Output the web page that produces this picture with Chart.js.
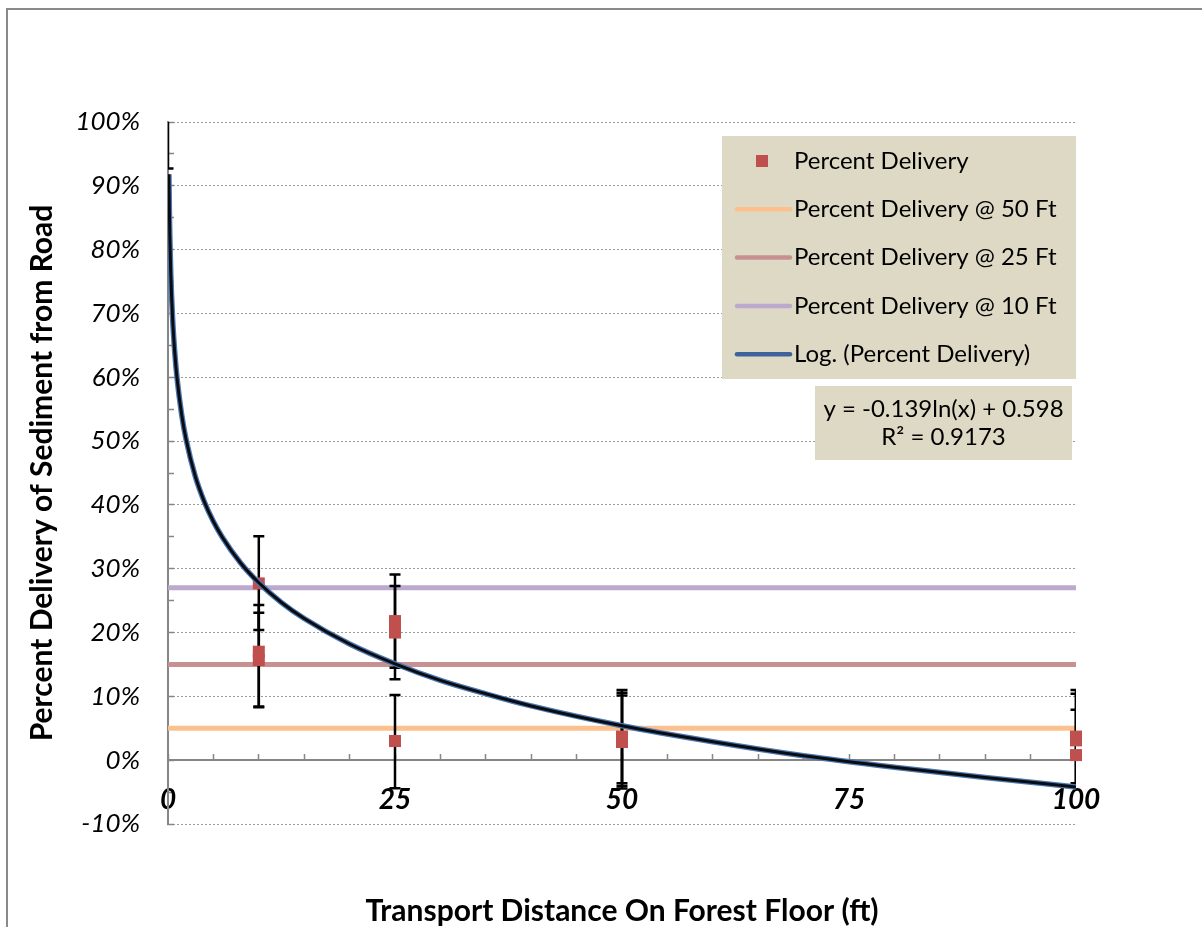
<!DOCTYPE html>
<html>
<head>
<meta charset="utf-8">
<script src="https://cdn.jsdelivr.net/npm/chart.js@4.4.1/dist/chart.umd.min.js"></script>
<style>
    html, body { margin: 0; padding: 0; background: #fff; }
    #wrap { position: relative; width: 1202px; height: 927px; }
</style>
</head>
<body>
<div id="wrap"><canvas id="sedimentChart" width="1202" height="927"></canvas></div>
<script>
// measured delivery (percent) per transport distance (ft), three plots per distance
const distances = [0, 10, 10, 10, 25, 25, 25, 50, 50, 50, 100, 100, 100];
const delivery = [100, 27.7, 17.0, 15.7, 21.8, 20.0, 3.0, 3.7, 3.25, 2.85, 3.7, 3.1, 0.8];
const errPlus = [7.3, 7.4, 7.3, 7.4, 7.3, 7.3, 7.2, 7.3, 7.3, 7.3, 7.3, 7.3, 7.1];
const errMinus = [7.3, 7.3, 8.7, 7.3, 7.3, 7.3, 7.4, 7.3, 7.3, 7.3, 7.3, 7.3, 4.7];

// reference delivery levels
const lineRange = [0, 100];
const at50ft = 5;
const at25ft = 15;
const at10ft = 27;

// log trendline
const trendX = [0.1, 0.15, 0.2, 0.3, 0.5, 0.75, 1, 1.5, 2, 3, 4, 5, 6, 8, 10, 12.5, 15, 20, 25, 30, 35, 40, 50, 60, 70, 80, 90, 100];
const trendY = [91.8, 86.2, 82.2, 76.5, 69.4, 63.8, 59.8, 54.2, 50.2, 44.5, 40.5, 37.4, 34.9, 30.9, 27.8, 24.7, 22.2, 18.2, 15.1, 12.5, 10.4, 8.5, 5.4, 2.9, 0.7, -1.1, -2.7, -4.2];
const trendEquation = ['y = -0.139ln(x) + 0.598', 'R\u00b2 = 0.9173'];

const xTickLabels = [0, 25, 50, 75, 100];
const yTickLabels = [-10, 0, 10, 20, 30, 40, 50, 60, 70, 80, 90, 100];

Chart.defaults.font.family = 'Lato';
Chart.defaults.color = '#000';

const toPoints = (xs, ys) => xs.map((x, i) => ({ x: x, y: ys[i] }));
const flatLine = (v) => lineRange.map(x => ({ x: x, y: v }));

const frame = {
    id: 'frame',
    beforeDraw(chart) {
        const ctx = chart.ctx;
        ctx.save();
        ctx.fillStyle = '#fff';
        ctx.fillRect(0, 0, chart.width, chart.height);
        ctx.strokeStyle = '#8a8a8a';
        ctx.lineWidth = 2;
        ctx.beginPath();
        ctx.moveTo(7, chart.height);
        ctx.lineTo(7, 9);
        ctx.lineTo(chart.width, 9);
        ctx.stroke();
        ctx.restore();
    }
};

// vertical error bars, drawn just under the markers
const errorBars = {
    id: 'errorBars',
    beforeDatasetDraw(chart, args) {
        if (args.index !== 0) return;
        const { ctx, chartArea, scales } = chart;
        ctx.save();
        ctx.beginPath();
        ctx.rect(chartArea.left, chartArea.top, chartArea.right - chartArea.left, chartArea.bottom - chartArea.top);
        ctx.clip();
        ctx.strokeStyle = '#000';
        ctx.lineWidth = 2.5;
        distances.forEach((d, i) => {
            const px = scales.x.getPixelForValue(d);
            const top = scales.y.getPixelForValue(delivery[i] + errPlus[i]);
            const bot = scales.y.getPixelForValue(delivery[i] - errMinus[i]);
            ctx.beginPath();
            ctx.moveTo(px, top);
            ctx.lineTo(px, bot);
            ctx.moveTo(px - 5.5, top);
            ctx.lineTo(px + 5.5, top);
            ctx.moveTo(px - 5.5, bot);
            ctx.lineTo(px + 5.5, bot);
            ctx.stroke();
        });
        ctx.restore();
    }
};

const boxLegend = {
    id: 'boxLegend',
    afterDraw(chart) {
        const { ctx, chartArea } = chart;
        const right = chartArea.right;
        const top = chartArea.top + 14;
        const w = 354, h = 243;
        const left = right - w;
        ctx.save();
        ctx.fillStyle = '#ddd9c4';
        ctx.fillRect(left, top, w, h);
        ctx.font = '24px Lato';
        ctx.textBaseline = 'middle';
        ctx.textAlign = 'left';
        const items = chart.data.datasets.filter(ds => ds.inLegend !== false);
        items.forEach((ds, i) => {
            const cy = top + 25 + i * 48.3;
            if (ds.showLine === false) {
                ctx.fillStyle = ds.backgroundColor;
                ctx.fillRect(left + 34, cy - 6, 12, 12);
            } else {
                ctx.strokeStyle = ds.legendColor || ds.borderColor;
                ctx.lineWidth = 4.5;
                ctx.lineCap = 'round';
                ctx.beginPath();
                ctx.moveTo(left + 15, cy);
                ctx.lineTo(left + 68, cy);
                ctx.stroke();
            }
            ctx.fillStyle = '#000';
            ctx.fillText(ds.label, left + 72, cy);
        });

        // trendline equation box
        const eW = 257, eH = 74;
        const eLeft = right - 4 - eW;
        const eTop = top + 250;
        ctx.fillStyle = '#ddd9c4';
        ctx.fillRect(eLeft, eTop, eW, eH);
        ctx.fillStyle = '#000';
        ctx.textAlign = 'center';
        trendEquation.forEach((t, i) => ctx.fillText(t, eLeft + eW / 2, eTop + 23 + i * 28.5));
        ctx.restore();
    }
};

new Chart(document.getElementById('sedimentChart'), {
    type: 'scatter',
    data: {
        datasets: [
            {
                label: 'Percent Delivery',
                data: toPoints(distances, delivery),
                showLine: false,
                backgroundColor: '#c0504d',
                borderColor: '#c0504d',
                borderWidth: 0,
                pointStyle: 'rect',
                pointRadius: ctx => (ctx.raw && ctx.raw.x === 0 ? 0 : 8.5),
                clip: false,
                order: 2
            },
            {
                label: 'Percent Delivery @ 50 Ft',
                data: flatLine(at50ft),
                showLine: true,
                borderColor: '#fbc08e',
                borderWidth: 5,
                pointRadius: 0,
                order: 5
            },
            {
                label: 'Percent Delivery @ 25 Ft',
                data: flatLine(at25ft),
                showLine: true,
                borderColor: '#c79192',
                borderWidth: 5,
                pointRadius: 0,
                order: 4
            },
            {
                label: 'Percent Delivery @ 10 Ft',
                data: flatLine(at10ft),
                showLine: true,
                borderColor: '#bcaace',
                borderWidth: 5,
                pointRadius: 0,
                order: 3
            },
            {
                label: 'Log. (Percent Delivery)',
                data: toPoints(trendX, trendY),
                showLine: true,
                borderColor: '#4a78b0',
                legendColor: '#3c649a',
                borderWidth: 5.5,
                pointRadius: 0,
                cubicInterpolationMode: 'monotone',
                order: 1
            },
            {
                label: 'trend core',
                inLegend: false,
                data: toPoints(trendX, trendY),
                showLine: true,
                borderColor: '#0b0b12',
                borderWidth: 3,
                pointRadius: 0,
                cubicInterpolationMode: 'monotone',
                order: 0
            }
        ]
    },
    options: {
        responsive: false,
        animation: false,
        layout: { padding: { top: 122, right: 126, bottom: 103, left: 0 } },
        plugins: {
            legend: { display: false },
            tooltip: { enabled: false }
        },
        scales: {
            x: {
                type: 'linear',
                min: 0,
                max: 100,
                position: { y: 0 },
                afterFit(scale) {
                    scale.paddingLeft = 0;
                    scale.paddingRight = 0;
                    scale.paddingTop = 0;
                    scale.paddingBottom = 0;
                    scale.height = 174;
                },
                ticks: {
                    stepSize: 5,
                    autoSkip: false,
                    maxRotation: 0,
                    padding: 30,
                    color: '#000',
                    font: { size: 28, weight: 'bold', style: 'italic' },
                    callback: v => (xTickLabels.includes(v) ? String(v) : '')
                },
                grid: { drawOnChartArea: false, tickLength: -7, tickColor: '#868686', tickWidth: 1.5 },
                border: { color: '#868686', width: 2 },
                title: {
                    display: true,
                    text: 'Transport Distance On Forest Floor (ft)',
                    color: '#000',
                    font: { size: 30, weight: 'bold' },
                    padding: { top: 0, bottom: 5 }
                }
            },
            y: {
                type: 'linear',
                min: -10,
                max: 100,
                afterFit(scale) {
                    scale.width = 168;
                    scale.paddingTop = 0;
                    scale.paddingBottom = 0;
                    scale.paddingLeft = 0;
                    scale.paddingRight = 0;
                },
                ticks: {
                    stepSize: 5,
                    autoSkip: false,
                    padding: 34,
                    color: '#000',
                    font: { size: 26, style: 'italic' },
                    callback: v => (yTickLabels.includes(v) ? v + '%' : '')
                },
                grid: {
                    color: ctx => (ctx.tick && yTickLabels.includes(ctx.tick.value) ? '#9b9b9b' : 'rgba(0,0,0,0)'),
                    lineWidth: 1,
                    tickColor: '#868686',
                    tickLength: -6,
                    tickWidth: 1.5
                },
                border: { color: '#868686', width: 2, dash: [2, 2] },
                title: {
                    display: true,
                    text: 'Percent Delivery of Sediment from Road',
                    color: '#000',
                    font: { size: 30, weight: 'bold' },
                    padding: { top: 24, bottom: 0 }
                }
            }
        }
    },
    plugins: [frame, errorBars, boxLegend]
});
</script>
</body>
</html>
